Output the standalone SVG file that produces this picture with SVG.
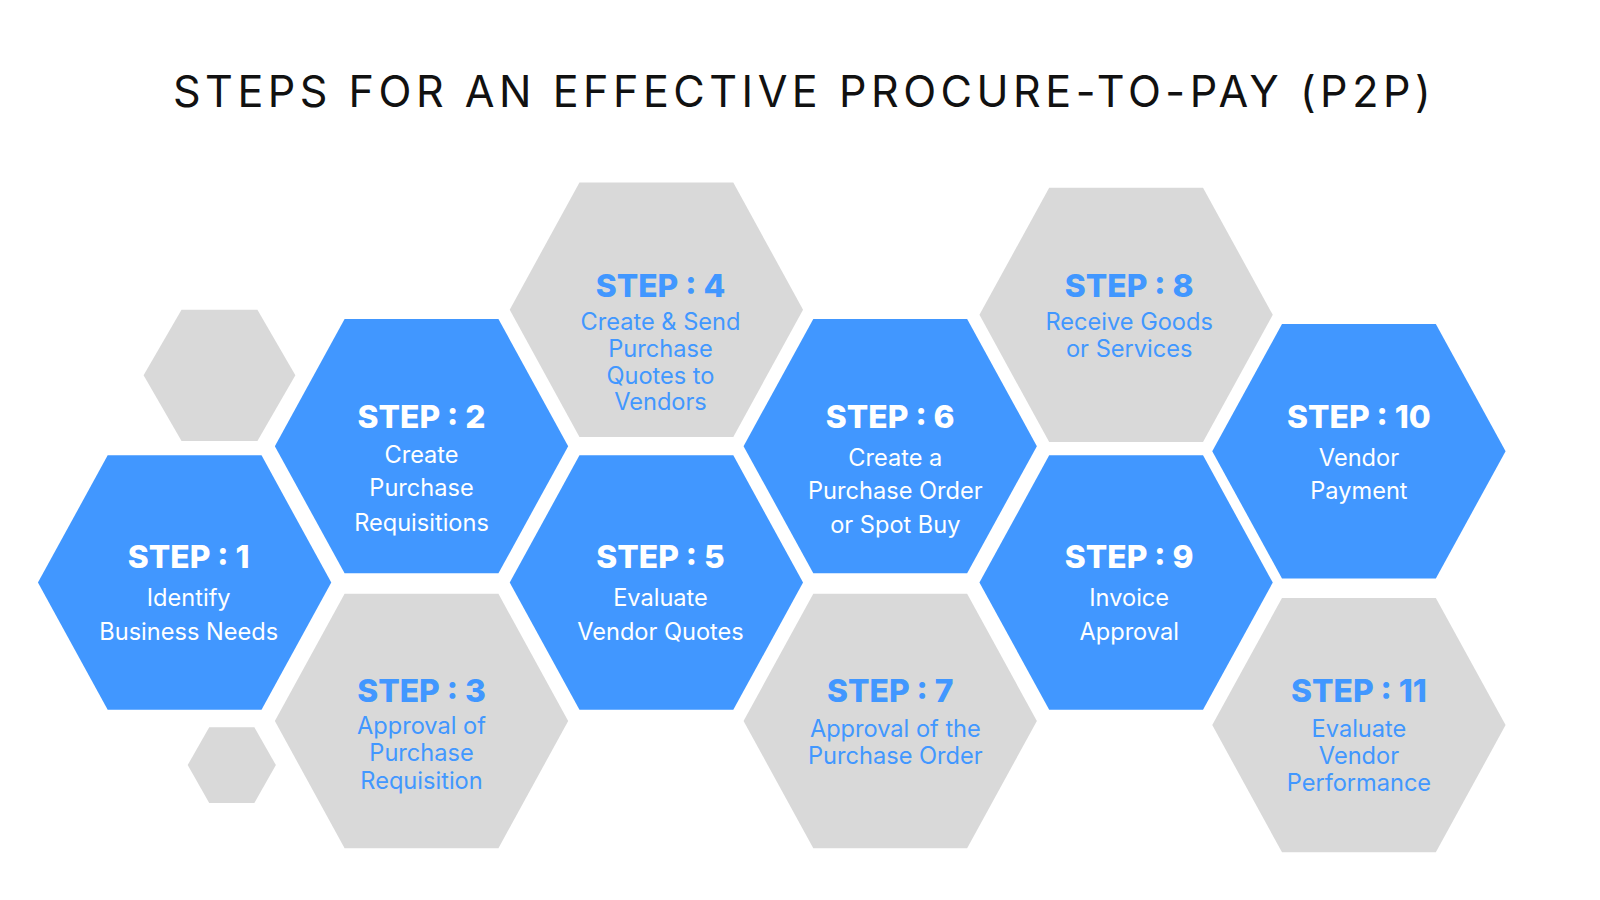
<svg xmlns="http://www.w3.org/2000/svg" width="1600" height="900" viewBox="0 0 1600 900">
<defs>
<style>
.b{fill:#4197FF}.g{fill:#D9D9D9}
.t{font-family:Inter,"Open Sans",sans-serif;text-anchor:middle}
.hw{font-weight:800;font-size:31px;fill:#fff}
.hb{font-weight:800;font-size:31px;fill:#4197FF}
.bw{font-size:23px;fill:#fff}
.bb{font-size:23px;fill:#4197FF}
</style>
<path id="h" d="M-143,0 L-75,-124 L75,-124 L143,0 L75,124 L-75,124 Z"/>
</defs>
<rect width="1600" height="900" fill="#fff"/>
<g transform="scale(1.0256)">
<text x="784" y="104" class="t" font-size="42" letter-spacing="4.4" fill="#111">STEPS FOR AN EFFECTIVE PROCURE-TO-PAY (P2P)</text>
<g id="deco1"><path class="g" d="M140,366 L177,302 L251,302 L288,366 L251,430 L177,430 Z"/></g>
<g id="deco2"><path class="g" d="M183,746 L204,709 L248,709 L269,746 L248,783 L204,783 Z"/></g>
<g id="s1"><use href="#h" class="b" x="180" y="568"/><text class="t hw" x="184" y="554">STEP : 1</text><text class="t bw" x="184" y="591">Identify</text><text class="t bw" x="184" y="624">Business Needs</text></g>
<g id="s2"><use href="#h" class="b" x="411" y="435"/><text class="t hw" x="411" y="417">STEP : 2</text><text class="t bw" x="411" y="451">Create</text><text class="t bw" x="411" y="484">Purchase</text><text class="t bw" x="411" y="518">Requisitions</text></g>
<g id="s3"><use href="#h" class="g" x="411" y="703"/><text class="t hb" x="411" y="684">STEP : 3</text><text class="t bb" x="411" y="716">Approval of</text><text class="t bb" x="411" y="742">Purchase</text><text class="t bb" x="411" y="769">Requisition</text></g>
<g id="s4"><use href="#h" class="g" x="640" y="302"/><text class="t hb" x="644" y="290">STEP : 4</text><text class="t bb" x="644" y="322">Create &amp; Send</text><text class="t bb" x="644" y="348">Purchase</text><text class="t bb" x="644" y="374">Quotes to</text><text class="t bb" x="644" y="400">Vendors</text></g>
<g id="s5"><use href="#h" class="b" x="640" y="568"/><text class="t hw" x="644" y="554">STEP : 5</text><text class="t bw" x="644" y="591">Evaluate</text><text class="t bw" x="644" y="624">Vendor Quotes</text></g>
<g id="s6"><use href="#h" class="b" x="868" y="435"/><text class="t hw" x="868" y="417">STEP : 6</text><text class="t bw" x="873" y="454">Create a</text><text class="t bw" x="873" y="487">Purchase Order</text><text class="t bw" x="873" y="520">or Spot Buy</text></g>
<g id="s7"><use href="#h" class="g" x="868" y="703"/><text class="t hb" x="868" y="684">STEP : 7</text><text class="t bb" x="873" y="719">Approval of the</text><text class="t bb" x="873" y="745">Purchase Order</text></g>
<g id="s8"><use href="#h" class="g" x="1098" y="307"/><text class="t hb" x="1101" y="290">STEP : 8</text><text class="t bb" x="1101" y="322">Receive Goods</text><text class="t bb" x="1101" y="348">or Services</text></g>
<g id="s9"><use href="#h" class="b" x="1098" y="568"/><text class="t hw" x="1101" y="554">STEP : 9</text><text class="t bw" x="1101" y="591">Invoice</text><text class="t bw" x="1101" y="624">Approval</text></g>
<g id="s10"><use href="#h" class="b" x="1325" y="440"/><text class="t hw" x="1325" y="417">STEP : 10</text><text class="t bw" x="1325" y="454">Vendor</text><text class="t bw" x="1325" y="487">Payment</text></g>
<g id="s11"><use href="#h" class="g" x="1325" y="707"/><text class="t hb" x="1325" y="684">STEP : 11</text><text class="t bb" x="1325" y="719">Evaluate</text><text class="t bb" x="1325" y="745">Vendor</text><text class="t bb" x="1325" y="771">Performance</text></g>
<g id="connectors"/>
</g>
</svg>
